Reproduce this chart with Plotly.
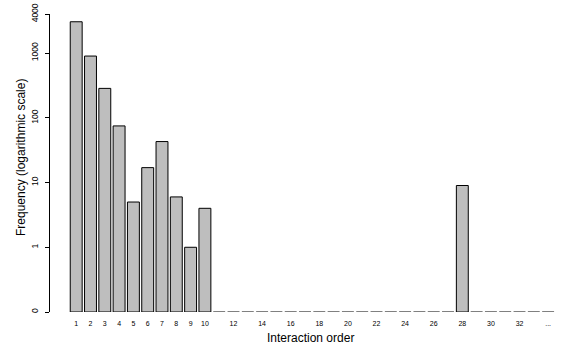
import plotly.graph_objects as go
import math

# Data
categories = [str(i) for i in range(1, 34)] + ["..."]
values = [3050, 900, 285, 75, 5, 17, 43, 6, 1, 4,
          0, 0, 0, 0, 0, 0, 0, 0, 0, 0,
          0, 0, 0, 0, 0, 0, 0, 9, 0, 0,
          0, 0, 0, 0]
tick_labels = ["1", "2", "3", "4", "5", "6", "7", "8", "9", "10",
               "12", "14", "16", "18", "20", "22", "24", "26", "28", "30", "32", "..."]
y_ticks = [0.1, 1, 10, 100, 1000, 4000]
y_tick_text = ["0", "1", "10", "100", "1000", "4000"]

base_level = 0.1  # where "0" sits on the log axis
bar_width = 1 / 1.2

positions = list(range(1, len(categories) + 1))
tick_positions = [positions[categories.index(t)] for t in tick_labels]

nz_x = [p for p, v in zip(positions, values) if v > 0]
nz_y = [v - base_level for v in values if v > 0]

# zero-frequency bars drawn as flat outlines at the baseline
zx, zy = [], []
for p, v in zip(positions, values):
    if v == 0:
        zx += [p - bar_width / 2, p + bar_width / 2, None]
        zy += [base_level, base_level, None]

fig = go.Figure()
fig.add_trace(go.Bar(
    x=nz_x, y=nz_y, base=base_level, width=bar_width,
    marker=dict(color="#bebebe", line=dict(color="#000000", width=1)),
    showlegend=False, hoverinfo="skip"))
fig.add_trace(go.Scatter(
    x=zx, y=zy, mode="lines", line=dict(color="#000000", width=1),
    showlegend=False, hoverinfo="skip", cliponaxis=False))

font_family = "Liberation Sans, Arial, Helvetica, sans-serif"
fig.update_layout(
    width=566, height=349,
    margin=dict(l=50, r=0, t=14, b=37),
    paper_bgcolor="white", plot_bgcolor="white",
    font=dict(family=font_family, color="#000000"),
    xaxis=dict(
        range=[-0.832, 35.25],
        tickmode="array", tickvals=tick_positions, ticktext=tick_labels,
        tickfont=dict(size=7, color="#000000"), ticks="", showline=False, showgrid=False,
        zeroline=False, ticklabelstandoff=6),
    yaxis=dict(
        type="log",
        range=[math.log10(base_level), math.log10(4000) + 0.002],
        tickmode="array", tickvals=y_ticks, ticktext=y_tick_text,
        tickangle=-90, tickfont=dict(size=8.5, color="#000000"),
        ticks="outside", ticklen=4, tickwidth=1, tickcolor="#000000",
        showline=True, linecolor="#000000", linewidth=1,
        showgrid=False, zeroline=False, ticklabelstandoff=4),
    annotations=[
        dict(text="Interaction order", xref="paper", yref="paper",
             x=(310 - 50) / 516, y=-(338 - 312) / 298, xanchor="center", yanchor="middle",
             showarrow=False, font=dict(size=12)),
        dict(text="Frequency (logarithmic scale)", xref="paper", yref="paper",
             x=-(50 - 21) / 516, y=(312 - 158) / 298, xanchor="center", yanchor="middle",
             textangle=-90, showarrow=False, font=dict(size=12)),
    ],
)

fig.write_html("out.html")
